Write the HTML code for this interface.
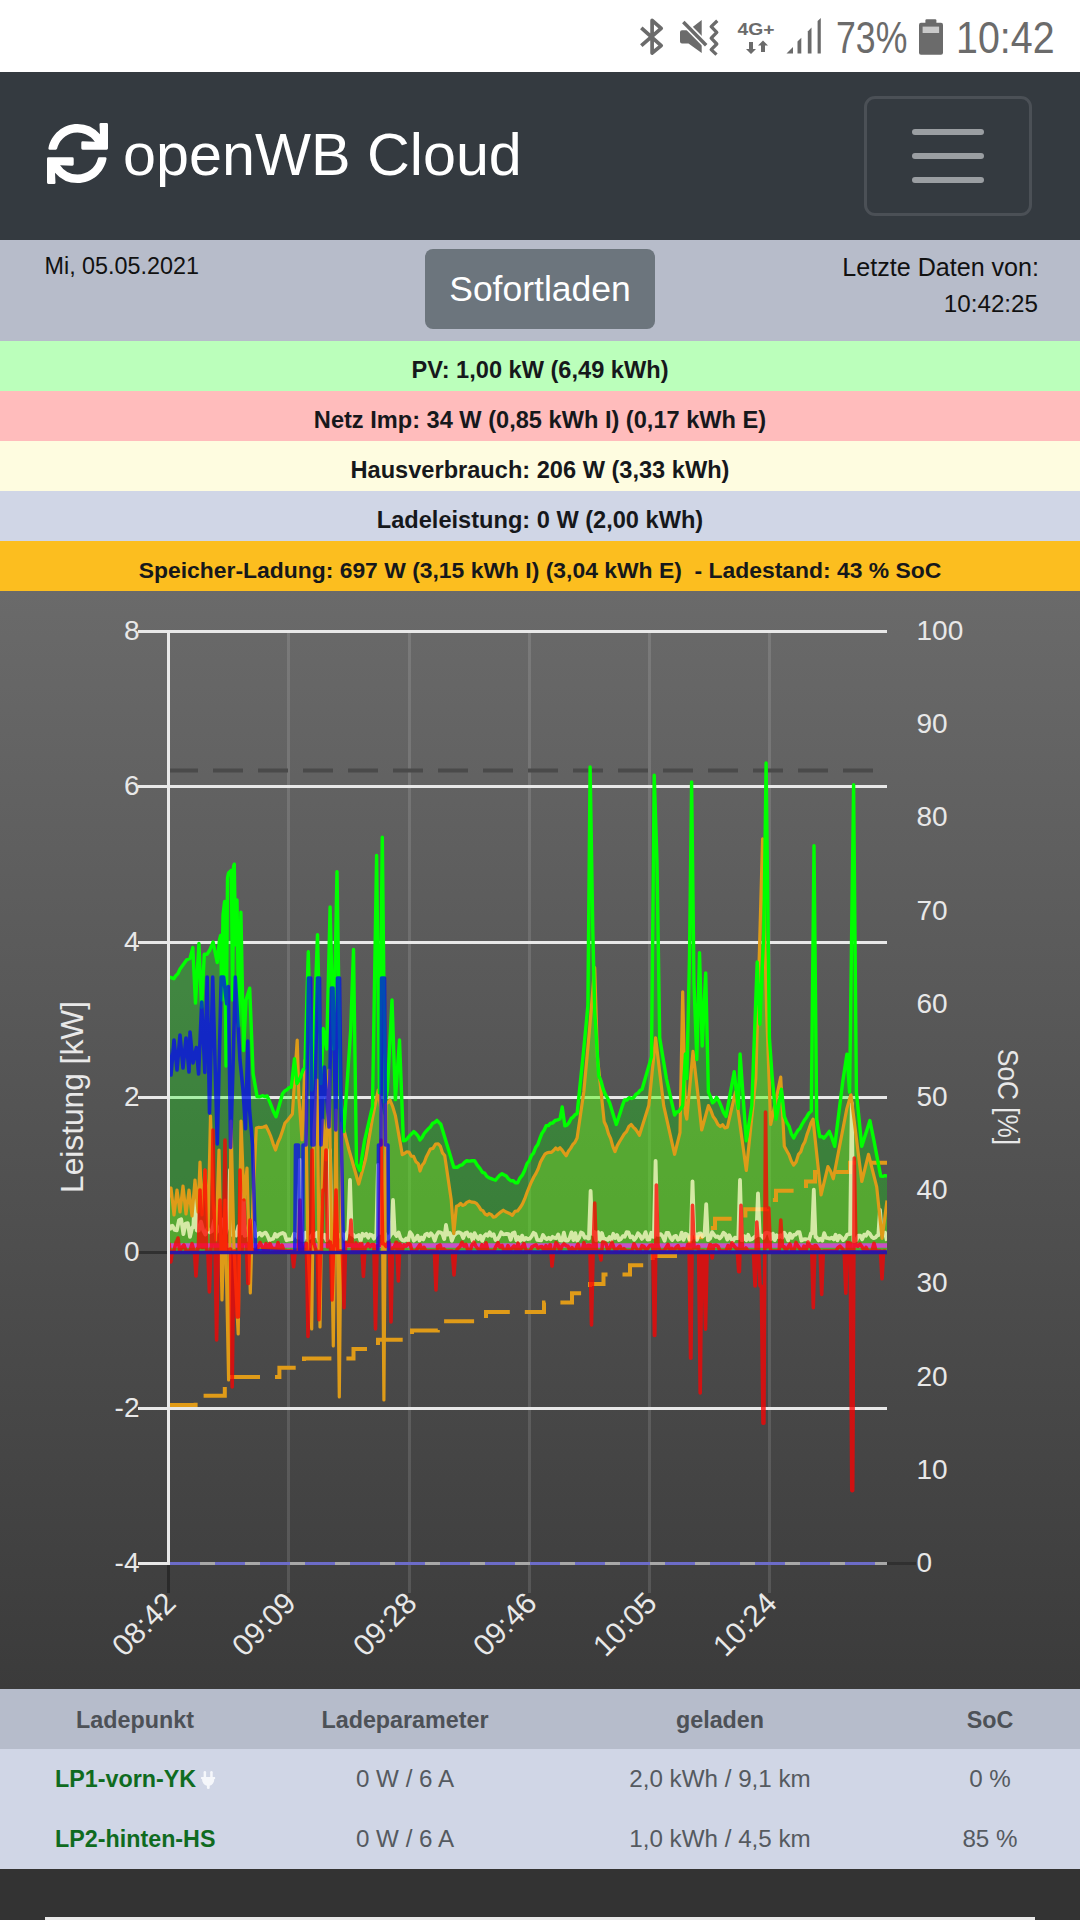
<!DOCTYPE html><html><head><meta charset="utf-8"><style>
*{margin:0;padding:0;box-sizing:border-box}
html,body{width:1080px;height:1920px;overflow:hidden;background:#333;font-family:"Liberation Sans",sans-serif}
.abs{position:absolute}
#status{position:absolute;left:0;top:0;width:1080px;height:72px;background:#fff}
#nav{position:absolute;left:0;top:72px;width:1080px;height:168px;background:#343a40}
#info{position:absolute;left:0;top:240px;width:1080px;height:101px;background:#b7bcca}
.row{position:absolute;left:0;width:1080px;height:50px;font-weight:bold;font-size:23.6px;color:#16181b;text-align:center;line-height:58px}
#chart{position:absolute;left:0;top:591px;width:1080px;height:1098px}
#thead{position:absolute;left:0;top:1689px;width:1080px;height:60px;background:#b6bccb}
#tbody{position:absolute;left:0;top:1749px;width:1080px;height:120px;background:#d0d6e6}
#foot{position:absolute;left:0;top:1869px;width:1080px;height:51px;background:#333}
.t{position:absolute;white-space:nowrap}
</style></head><body>
<div id="status">
<svg class="abs" style="left:0;top:0" width="1080" height="72">
<g fill="none" stroke="#6b6b6b" stroke-width="3.7" stroke-linejoin="round" stroke-linecap="butt">
<path d="M641.3,27.8 L661.2,45.6 L652.1,53 V20.4 L661.2,28.3 L641.3,45.7"/>
</g>
<path d="M682,30.2 H688.5 L701.7,20 V53 L688.5,43.6 H682 Q680,43.6 680,41.6 V32.2 Q680,30.2 682,30.2 Z" fill="#6b6b6b"/>
<line x1="682.2" y1="20.8" x2="707.2" y2="46.2" stroke="#fff" stroke-width="6.8"/>
<line x1="683.3" y1="21.9" x2="706.2" y2="45.2" stroke="#6b6b6b" stroke-width="3.5" stroke-linecap="butt"/>
<path d="M717.3,20.7 L711.2,26.6 L716.8,32.4 L711.2,38.2 L716.8,44 L711.2,49.6 L716.5,54.6" fill="none" stroke="#6b6b6b" stroke-width="3.3" stroke-linejoin="round"/>
<text x="737.5" y="35.3" font-family="Liberation Sans" font-weight="bold" font-size="16.5" fill="#6b6b6b" textLength="37" lengthAdjust="spacingAndGlyphs">4G+</text>
<path d="M749,42 V49 H746 L751,54 L756,49 H753 V42 Z" fill="#6b6b6b"/>
<path d="M761,52 V45.5 H758 L763,40.5 L768,45.5 H765 V52 Z" fill="#6b6b6b"/>
<path d="M786.5,53.5 L793,47 V53.5 Z" fill="#6b6b6b"/>
<path d="M797.5,53.5 V41.5 L801.3,37.7 V53.5 Z" fill="#6b6b6b"/>
<path d="M807.8,53.5 V31.4 L811.5,27.6 V53.5 Z" fill="#6b6b6b"/>
<path d="M817.6,53.5 V21 L820.8,18 V53.5 Z" fill="#6b6b6b"/>
<rect x="919" y="22.8" width="24" height="32" rx="2" fill="#6b6b6b"/>
<rect x="925.4" y="19.2" width="11" height="5" rx="1.2" fill="#6b6b6b"/>
<rect x="922.6" y="26.6" width="16.5" height="6.4" fill="#c9c9c9"/>
</svg><div class="t" style="left:836px;top:14px;font-size:44px;line-height:48px;color:#6b6b6b;transform-origin:0 0;transform:scaleX(0.81)">73%</div><div class="t" style="left:956px;top:14px;font-size:44px;line-height:48px;color:#6b6b6b;transform-origin:0 0;transform:scaleX(0.895)">10:42</div>
</div>
<div id="nav">
<svg class="abs" style="left:47px;top:51px" width="61" height="61" viewBox="0 0 512 512"><path fill="#fff" d="M440.65 12.57l4 82.77A247.16 247.16 0 0 0 255.83 8C134.73 8 33.91 94.92 12.290 209.82A12 12 0 0 0 24.09 224h49.05a12 12 0 0 0 11.67-9.26 175.91 175.91 0 0 1 317-56.94l-101.46-4.860a12 12 0 0 0-12.57 12v47.41a12 12 0 0 0 12 12H500a12 12 0 0 0 12-12V12a12 12 0 0 0-12-12h-47.37a12 12 0 0 0-11.980 12.57zM255.83 432a175.61 175.61 0 0 1-146-77.8l101.8 4.87a12 12 0 0 0 12.57-12v-47.4a12 12 0 0 0-12-12H12a12 12 0 0 0-12 12V500a12 12 0 0 0 12 12h47.35a12 12 0 0 0 12-12.6l-4.15-82.57A247.17 247.17 0 0 0 255.83 504c121.11 0 221.93-86.92 243.55-201.82a12 12 0 0 0-11.800-14.18h-49.05a12 12 0 0 0-11.67 9.26A175.86 175.86 0 0 1 255.83 432z"/></svg>
<div class="t" style="left:123px;top:43px;font-size:59.3px;line-height:80px;color:#fff">openWB Cloud</div>
<div class="abs" style="left:864px;top:24px;width:168px;height:120px;border:3px solid #4b5056;border-radius:11px"></div>
<div class="abs" style="left:912px;top:57px;width:72px;height:6px;border-radius:3px;background:#9a9ea2"></div>
<div class="abs" style="left:912px;top:81px;width:72px;height:6px;border-radius:3px;background:#9a9ea2"></div>
<div class="abs" style="left:912px;top:105px;width:72px;height:6px;border-radius:3px;background:#9a9ea2"></div>
</div>
<div id="info">
<div class="t" style="left:44.5px;top:12px;font-size:23.35px;line-height:28px;color:#111">Mi, 05.05.2021</div>
<div class="abs" style="left:425px;top:9px;width:230px;height:80px;background:#6c757d;border-radius:8px"></div>
<div class="t" style="left:425px;top:9px;width:230px;height:80px;line-height:80px;text-align:center;font-size:35.5px;color:#fff">Sofortladen</div>
<div class="t" style="right:41px;top:13px;font-size:25.1px;line-height:28px;color:#111;text-align:right">Letzte Daten von:</div>
<div class="t" style="right:42px;top:50px;font-size:24.2px;line-height:28px;color:#111;text-align:right">10:42:25</div>
</div>
<div class="row" style="top:341px;background:#bbffbb;">PV: 1,00 kW (6,49 kWh)</div>
<div class="row" style="top:391px;background:#ffbcbc;">Netz Imp: 34 W (0,85 kWh I) (0,17 kWh E)</div>
<div class="row" style="top:441px;background:#fefce0;">Hausverbrauch: 206 W (3,33 kWh)</div>
<div class="row" style="top:491px;background:#d0d6e6;">Ladeleistung: 0 W (2,00 kWh)</div>
<div class="row" style="top:541px;background:#fcbe1f;font-size:22.9px;">Speicher-Ladung: 697 W (3,15 kWh I) (3,04 kWh E) &nbsp;- Ladestand: 43 % SoC</div>
<div id="chart"><svg width="1080" height="1098" viewBox="0 591 1080 1098" style="display:block;font-family:'Liberation Sans',sans-serif">
<defs><linearGradient id="bg" x1="0" y1="0" x2="0" y2="1"><stop offset="0" stop-color="#6a6a6a"/><stop offset="1" stop-color="#3b3b3b"/></linearGradient><clipPath id="pl"><rect x="170" y="600" width="717" height="970"/></clipPath></defs>
<rect x="0" y="591" width="1080" height="1098" fill="url(#bg)"/>
<line x1="288.5" y1="630" x2="288.5" y2="1593" stroke="#ffffff" stroke-opacity="0.12" stroke-width="3"/>
<line x1="409.5" y1="630" x2="409.5" y2="1593" stroke="#ffffff" stroke-opacity="0.12" stroke-width="3"/>
<line x1="529.5" y1="630" x2="529.5" y2="1593" stroke="#ffffff" stroke-opacity="0.12" stroke-width="3"/>
<line x1="649.5" y1="630" x2="649.5" y2="1593" stroke="#ffffff" stroke-opacity="0.12" stroke-width="3"/>
<line x1="769.5" y1="630" x2="769.5" y2="1593" stroke="#ffffff" stroke-opacity="0.12" stroke-width="3"/>
<line x1="168.5" y1="1563" x2="168.5" y2="1593" stroke="#2a2a2a" stroke-width="3"/>
<line x1="138" y1="631.5" x2="887" y2="631.5" stroke="#e8e8e8" stroke-width="3"/>
<line x1="138" y1="786.5" x2="887" y2="786.5" stroke="#e8e8e8" stroke-width="3"/>
<line x1="138" y1="942.5" x2="887" y2="942.5" stroke="#e8e8e8" stroke-width="3"/>
<line x1="138" y1="1097.5" x2="887" y2="1097.5" stroke="#e8e8e8" stroke-width="3"/>
<line x1="138" y1="1408.5" x2="887" y2="1408.5" stroke="#e8e8e8" stroke-width="3"/>
<line x1="138" y1="1563.5" x2="887" y2="1563.5" stroke="#e8e8e8" stroke-width="3"/>
<line x1="138" y1="1252.5" x2="887" y2="1252.5" stroke="#303030" stroke-width="3"/>
<line x1="887" y1="1563.5" x2="916" y2="1563.5" stroke="#303030" stroke-width="3"/>
<line x1="168.5" y1="630" x2="168.5" y2="1565" stroke="#e8e8e8" stroke-width="3"/>
<g clip-path="url(#pl)">
<polygon points="168.4,976.7 171.1,977.6 173.8,978.7 175.8,975.7 177.9,973.6 179.9,969.2 182.2,966.0 184.4,963.0 186.7,959.8 190.0,958.4 192.8,947.6 195.5,1003.1 198.9,943.5 201.6,1007.2 204.3,954.3 207.0,954.3 209.7,950.3 213.1,942.1 217.2,962.5 219.5,940.0 220.6,935.4 221.8,1000.0 223.0,915.0 224.6,901.5 226.0,1066.0 227.5,878.0 228.5,873.0 231.4,870.3 232.6,1000.0 233.6,866.0 234.3,864.2 235.5,944.9 237.0,900.0 238.8,1026.0 240.9,912.3 243.6,1050.5 246.0,1000.0 249.7,988.2 253.1,1073.6 257.1,1096.6 259.7,1096.8 262.4,1095.7 265.0,1096.6 267.2,1096.0 269.4,1101.2 271.6,1106.7 273.8,1112.3 276.0,1116.7 282.5,1093.8 284.7,1091.0 286.9,1089.8 289.1,1087.6 291.3,1087.0 294.5,1058.8 296.9,1083.5 298.9,1080.4 300.9,1076.0 302.9,1070.2 304.9,1067.5 308.3,951.8 311.8,1090.0 317.5,934.6 321.0,1083.5 323.2,1028.5 326.7,1049.0 330.1,907.0 333.5,1049.0 337.0,871.6 340.4,1095.0 343.8,1131.6 350.7,1029.7 353.5,949.5 356.5,1163.7 359.9,1170.6 364.5,1140.8 372.5,1106.4 376.6,855.5 379.4,1092.7 382.3,837.2 385.1,1101.9 387.4,1090.4 392.0,999.9 395.4,1099.6 399.5,1040.0 403.4,1140.8 405.5,1140.3 407.5,1138.4 409.6,1135.7 411.6,1133.8 413.7,1131.6 415.8,1133.4 417.9,1135.8 420.0,1139.9 422.1,1137.4 424.2,1133.5 426.2,1131.2 428.3,1128.8 430.4,1126.9 432.6,1123.4 434.7,1122.5 436.9,1120.4 440.8,1124.3 453.8,1167.2 457.7,1167.2 460.0,1165.4 462.2,1164.9 464.5,1162.4 466.8,1160.7 469.4,1161.1 472.0,1160.7 474.6,1160.7 477.2,1165.1 479.9,1168.4 482.5,1172.4 484.7,1173.1 486.8,1176.4 489.0,1177.7 491.2,1178.6 493.3,1179.5 495.5,1180.2 497.7,1177.5 499.8,1175.1 502.0,1173.7 504.2,1174.9 506.3,1176.0 508.5,1179.0 510.8,1180.7 513.0,1180.6 515.3,1182.8 517.6,1182.8 519.9,1178.1 522.3,1175.2 524.6,1170.5 527.0,1163.7 529.3,1160.7 531.4,1155.5 533.5,1153.1 535.6,1147.5 537.8,1144.5 539.9,1138.5 542.0,1133.2 544.1,1130.3 546.2,1125.6 548.4,1125.5 550.5,1123.2 552.7,1123.0 555.1,1120.5 557.6,1119.9 560.0,1119.0 562.2,1107.0 564.9,1125.9 566.9,1125.2 569.0,1122.6 571.0,1118.7 573.0,1117.1 575.1,1114.6 577.1,1113.7 583.8,1048.7 587.9,1005.4 590.1,767.0 592.8,929.5 594.7,1010.8 598.7,1075.8 601.0,1080.9 603.2,1089.2 605.5,1094.7 607.5,1097.8 609.6,1102.8 616.3,1124.5 618.3,1118.5 620.4,1112.1 622.5,1105.3 624.5,1100.0 626.9,1100.0 629.2,1097.7 631.5,1098.5 633.9,1097.4 636.0,1094.3 638.0,1093.1 640.0,1090.5 642.1,1089.3 651.5,1056.8 654.2,775.2 657.0,861.9 659.7,1037.9 666.4,1078.5 674.6,1115.0 676.6,1112.0 678.7,1111.6 680.7,1108.8 682.7,1105.6 685.4,1054.0 686.8,1078.5 689.5,956.6 691.6,782.0 694.0,983.7 696.8,1059.5 699.5,952.6 702.2,1046.0 705.7,972.9 708.4,1092.0 710.5,1096.9 712.5,1102.8 714.5,1101.2 716.6,1097.4 719.0,1101.3 721.3,1106.6 723.6,1112.6 726.0,1116.4 734.2,1071.7 738.2,1108.3 740.1,1054.0 746.3,1140.8 751.8,1105.6 757.2,962.0 759.9,1024.3 763.9,929.5 766.1,763.0 769.4,1037.9 772.1,1075.8 776.1,1119.0 781.5,1089.3 784.3,1116.4 786.6,1122.2 789.0,1126.1 791.4,1134.0 793.7,1138.0 795.8,1133.8 797.8,1130.6 799.9,1128.6 801.9,1124.5 804.2,1120.6 806.6,1117.2 808.9,1113.2 811.3,1111.0 814.0,845.6 816.7,1119.0 819.8,1136.8 821.8,1136.4 823.9,1138.2 826.6,1135.0 829.3,1131.4 832.0,1138.1 834.7,1146.3 842.8,1081.3 846.9,1054.2 849.6,1092.1 853.6,784.7 856.4,1092.1 861.8,1146.3 869.9,1120.5 874.0,1140.9 880.7,1176.1 882.8,1176.4 884.9,1175.7 887.0,1176.1 887,1252 168,1252" fill="rgb(0,255,0)" fill-opacity="0.27"/>
<polygon points="168.0,1200.0 171.0,1188.0 174.0,1215.0 177.0,1190.0 180.0,1212.0 183.0,1186.0 186.0,1214.0 189.0,1190.0 192.0,1216.0 195.0,1180.0 198.0,1212.0 200.0,1162.0 202.0,1215.0 205.0,1170.0 208.0,1230.0 210.5,1116.0 213.0,1200.0 216.0,1240.0 219.0,1150.0 222.0,1300.0 225.0,1200.0 228.6,1380.0 231.0,1121.0 234.0,1250.0 238.2,1334.0 241.0,1121.0 244.0,1200.0 247.0,1168.0 250.3,1293.0 253.0,1200.0 256.3,1128.0 258.7,1127.4 261.1,1127.5 263.6,1127.0 266.0,1126.0 268.4,1130.9 270.8,1136.4 273.1,1143.6 275.5,1150.0 277.9,1142.5 280.2,1137.5 282.6,1130.4 285.0,1123.0 287.5,1120.3 289.9,1117.2 292.4,1114.0 297.2,1040.0 299.0,1099.0 302.0,1140.0 305.0,1060.0 308.0,1250.0 311.7,1329.0 314.0,1130.0 317.0,1080.0 320.0,1327.0 323.0,1120.0 326.0,1160.0 329.0,1070.0 333.3,1346.0 336.0,1110.0 339.3,1397.0 342.0,1122.5 349.0,1150.0 358.7,1184.0 365.6,1159.0 372.5,1118.0 378.2,1090.0 381.7,1115.6 383.9,1400.0 386.0,1104.0 388.0,1102.5 390.0,1100.0 392.7,1106.7 395.4,1115.6 402.3,1154.6 404.5,1153.5 406.8,1151.8 409.0,1152.0 411.3,1156.2 413.6,1156.4 416.0,1161.8 418.3,1163.7 420.0,1171.0 422.1,1165.2 424.2,1162.8 426.2,1157.3 428.3,1153.1 430.4,1149.0 433.0,1148.4 435.6,1144.0 438.2,1143.8 440.4,1146.3 442.5,1152.9 444.7,1155.5 451.2,1199.8 453.8,1233.6 456.4,1206.3 458.5,1205.5 460.6,1203.4 462.6,1205.5 464.7,1204.6 466.8,1202.4 469.4,1201.2 472.0,1202.2 474.6,1202.4 476.7,1203.6 478.8,1206.4 480.8,1209.7 482.9,1210.6 485.0,1214.0 487.1,1215.2 489.2,1213.6 491.3,1214.6 493.4,1217.2 495.5,1216.7 498.1,1214.2 500.7,1212.1 503.3,1210.2 505.6,1211.8 507.9,1212.7 510.1,1213.7 512.4,1215.4 515.0,1211.3 517.6,1210.9 520.2,1207.6 522.5,1203.9 524.8,1198.7 527.0,1192.5 529.3,1186.8 531.5,1181.7 533.8,1177.0 536.0,1173.4 538.2,1168.7 540.4,1162.3 542.7,1158.0 544.9,1154.2 547.1,1152.8 549.2,1152.4 551.4,1152.4 553.5,1150.5 555.7,1148.0 557.8,1149.7 560.0,1147.7 562.1,1150.1 564.1,1153.1 566.2,1155.7 568.4,1151.3 570.6,1148.4 572.7,1144.7 574.9,1142.4 577.1,1138.0 583.8,1092.0 589.3,1032.4 594.7,967.5 597.4,1056.8 604.2,1121.8 606.4,1126.5 608.5,1133.9 610.7,1138.6 612.8,1146.3 615.0,1151.6 617.3,1145.6 619.5,1141.8 621.8,1138.0 624.1,1134.1 626.5,1131.7 628.9,1126.4 631.2,1124.5 633.2,1127.1 635.3,1129.0 637.4,1131.9 639.4,1135.3 648.8,1105.6 655.6,1037.9 663.7,1105.6 674.6,1154.3 680.0,1132.6 682.7,991.8 685.4,1113.7 686.8,1119.0 693.0,1051.4 697.6,1092.0 701.7,1130.0 708.4,1105.6 710.8,1110.2 713.1,1116.5 715.5,1119.7 717.9,1124.5 720.3,1126.6 722.6,1124.8 725.0,1127.9 727.4,1127.2 735.5,1092.0 746.3,1170.5 755.8,1078.5 762.6,838.8 766.6,1010.8 770.7,1124.5 780.7,1077.0 784.3,1146.2 786.6,1150.5 789.0,1154.7 791.4,1161.2 793.7,1165.1 796.1,1162.0 798.4,1154.6 800.8,1151.7 802.8,1145.5 804.9,1141.7 806.9,1134.9 808.9,1129.2 811.0,1123.0 813.0,1119.2 821.1,1195.0 827.9,1166.6 830.6,1171.2 833.3,1178.8 846.9,1108.4 850.9,1094.8 861.8,1181.5 868.5,1154.4 876.7,1186.9 882.1,1238.4 887.0,1200.4 887,1252 168,1252" fill="rgb(138,244,33)" fill-opacity="0.35"/>
<line x1="168" y1="770.5" x2="874" y2="770.5" stroke="#4a4a4a" stroke-width="4" stroke-dasharray="30 15"/>
<line x1="170" y1="1563.5" x2="887" y2="1563.5" stroke="#a8a8a8" stroke-width="3"/>
<line x1="170" y1="1563.5" x2="887" y2="1563.5" stroke="#6c6cc8" stroke-width="3" stroke-dasharray="30 15"/>
<path d="M168,1405.1 H195.6 V1395.7 H224.8 V1386.4 H230 V1377.1 H279.4 V1367.8 H304 V1358.5 H353.5 V1349.1 H378 V1339.8 H412 V1330.5 H437.8 V1321.2 H486 V1311.9 H544 V1302.5 H572 V1293.2 H590 V1283.9 H603.5 V1274.6 H630 V1265.3 H652.8 V1255.9 H675 V1246.6 H690 V1237.3 H701.4 V1228.0 H715 V1218.7 H745.4 V1209.3 H767 V1200.0 H776 V1190.7 H806 V1181.4 H815 V1172.1 H850 V1162.7 H887" fill="none" stroke="#e09b18" stroke-width="4" stroke-dasharray="30 15"/>
<polyline points="168.0,1223.3 170.2,1228.8 172.4,1225.7 174.6,1229.9 176.8,1230.3 179.0,1220.2 181.2,1219.2 183.4,1234.1 185.6,1223.7 187.8,1223.2 190.0,1236.9 192.2,1227.5 193.3,1227.5 195.0,1190.0 196.7,1230.5 198.8,1230.5 201.0,1221.7 203.2,1230.4 205.4,1234.6 207.6,1228.4 209.8,1232.3 212.0,1231.1 214.2,1220.2 216.4,1232.6 218.6,1229.6 220.8,1224.4 223.0,1219.6 225.2,1234.6 227.4,1227.5 228.3,1227.5 230.0,1170.0 231.7,1234.8 231.8,1234.8 234.0,1231.9 236.2,1235.6 238.4,1226.1 240.6,1233.4 241.3,1233.4 243.0,1180.0 244.7,1235.8 245.0,1235.8 247.2,1234.8 249.4,1220.8 251.6,1221.4 253.8,1222.9 256.0,1236.4 258.0,1234.1 259.9,1232.9 261.8,1235.6 263.7,1233.4 265.6,1232.6 267.5,1235.6 269.4,1240.3 271.3,1239.2 273.2,1238.9 275.1,1234.0 277.0,1236.8 278.9,1234.5 280.8,1233.6 282.7,1233.0 284.6,1233.9 286.5,1240.3 288.4,1239.5 290.3,1239.3 292.2,1239.2 294.1,1233.7 296.0,1234.8 297.9,1237.6 298.3,1237.6 300.0,1160.0 301.7,1239.9 303.6,1239.9 305.5,1232.8 307.4,1237.5 309.3,1238.0 311.2,1236.6 313.1,1233.6 315.0,1236.3 316.9,1232.8 318.8,1240.4 320.7,1239.8 322.6,1236.9 324.5,1234.7 326.4,1240.2 328.3,1237.2 328.3,1237.2 330.0,1150.0 331.7,1239.6 332.1,1239.6 334.0,1236.6 335.9,1235.7 337.8,1237.4 339.7,1235.9 341.6,1233.5 343.5,1234.7 345.4,1239.3 347.3,1232.4 348.3,1232.4 350.0,1180.0 351.7,1234.5 353.0,1234.5 354.9,1236.8 356.8,1236.2 358.7,1235.1 360.6,1241.0 362.5,1233.8 364.4,1235.7 366.3,1233.8 368.2,1237.7 370.1,1234.5 372.0,1235.2 373.9,1238.7 375.8,1234.9 376.3,1234.9 378.0,1165.0 379.7,1232.9 381.5,1232.9 383.4,1232.6 385.3,1234.1 387.2,1238.9 389.1,1237.5 391.0,1234.1 391.3,1234.1 393.0,1200.0 394.7,1233.6 394.8,1233.6 396.7,1236.1 398.6,1232.4 400.5,1238.3 402.4,1240.1 404.3,1240.6 406.2,1238.6 408.1,1240.6 410.0,1232.2 411.9,1234.6 413.8,1240.7 415.7,1239.0 417.6,1235.7 419.5,1240.5 421.4,1237.6 423.3,1239.4 425.2,1234.6 427.1,1233.7 429.0,1236.0 430.9,1233.2 432.8,1235.4 434.7,1240.7 436.6,1235.0 438.5,1232.1 440.4,1232.4 442.3,1233.5 444.2,1239.1 444.3,1239.1 446.0,1225.0 447.7,1234.6 448.0,1234.6 449.9,1232.9 451.8,1240.8 453.7,1235.8 455.6,1233.9 457.5,1232.5 459.4,1232.5 461.3,1233.5 463.2,1238.1 465.1,1233.3 467.0,1232.4 468.9,1236.4 470.8,1234.2 472.7,1241.0 474.6,1233.1 476.5,1236.8 478.4,1239.0 480.3,1235.7 482.2,1240.9 484.1,1236.3 486.0,1234.2 487.9,1235.7 489.8,1232.3 491.7,1235.8 493.6,1234.2 495.5,1240.0 497.4,1239.5 499.3,1236.5 501.2,1232.3 503.1,1234.3 505.0,1234.2 506.9,1233.9 508.8,1234.1 510.7,1239.8 512.6,1233.3 514.5,1232.5 516.4,1240.4 518.3,1237.1 520.2,1240.9 522.1,1235.6 524.0,1240.1 525.9,1237.9 527.8,1239.1 529.7,1238.7 531.6,1236.4 533.5,1232.8 535.4,1233.9 537.3,1239.9 539.2,1240.1 541.1,1240.3 543.0,1235.0 544.9,1237.9 546.8,1239.2 548.7,1237.8 550.6,1239.3 552.5,1236.8 554.4,1237.9 556.3,1238.2 558.2,1234.4 560.1,1240.3 562.0,1240.6 563.9,1232.7 565.8,1240.7 567.7,1240.7 569.6,1238.0 571.5,1232.4 573.4,1240.1 575.3,1233.1 577.2,1240.7 579.1,1238.0 581.0,1232.5 582.9,1233.5 584.8,1237.7 586.7,1237.1 588.6,1238.7 588.9,1238.7 590.6,1190.8 592.3,1234.0 592.4,1234.0 594.3,1232.0 596.2,1240.3 598.1,1232.1 600.0,1239.9 601.9,1233.0 603.8,1239.3 605.7,1239.0 607.6,1239.9 609.5,1237.0 611.4,1239.9 613.3,1233.8 615.2,1238.0 617.1,1235.0 619.0,1240.0 620.9,1239.0 622.8,1236.2 624.7,1236.7 626.6,1232.2 628.5,1232.3 630.4,1237.4 632.3,1236.4 634.2,1239.8 636.1,1237.5 638.0,1233.2 639.9,1235.3 641.8,1238.9 643.7,1236.7 645.6,1232.1 647.5,1239.5 649.4,1239.4 651.3,1232.8 653.2,1236.9 653.9,1236.9 653.9,1236.9 655.6,1160.8 657.3,1234.8 657.3,1234.8 658.9,1234.8 660.8,1234.1 662.7,1236.4 664.6,1240.7 666.5,1232.9 668.4,1233.0 670.3,1237.6 672.2,1240.0 674.1,1236.6 676.0,1235.9 677.9,1239.7 679.8,1239.0 681.7,1232.6 683.6,1239.9 685.5,1233.8 687.4,1234.7 689.3,1239.5 690.8,1239.5 692.5,1181.3 694.2,1233.5 695.0,1233.5 696.9,1239.9 698.8,1233.6 700.7,1233.3 702.6,1236.4 704.5,1235.0 704.5,1235.0 706.2,1204.2 707.9,1240.1 708.3,1240.1 710.2,1238.4 712.1,1232.1 714.0,1234.8 715.9,1236.9 717.8,1236.4 719.7,1238.4 721.6,1236.4 723.5,1232.7 725.4,1234.2 727.3,1239.6 729.2,1235.2 731.1,1238.9 733.0,1240.9 734.9,1237.6 736.8,1238.1 738.3,1238.1 740.0,1180.0 741.7,1240.2 742.5,1240.2 744.4,1236.2 746.3,1240.2 748.2,1234.8 750.1,1239.8 752.0,1239.1 753.9,1237.5 755.8,1236.0 756.3,1236.0 758.0,1193.3 759.7,1235.3 761.5,1235.3 763.4,1238.0 765.3,1233.2 767.2,1232.7 769.1,1233.3 771.0,1239.3 772.9,1233.6 774.8,1240.1 776.7,1235.3 778.6,1237.2 780.5,1235.2 782.4,1237.6 784.3,1232.8 786.2,1235.6 788.1,1240.4 790.0,1233.6 791.9,1237.9 793.8,1234.9 795.7,1234.7 797.6,1232.2 799.5,1232.2 801.4,1240.5 803.3,1239.5 805.2,1239.2 807.1,1239.3 809.0,1240.6 810.9,1233.4 812.1,1233.4 813.8,1189.7 815.5,1237.2 816.6,1237.2 818.5,1240.4 820.4,1238.8 822.3,1240.7 824.2,1233.1 826.1,1237.9 828.0,1238.1 829.9,1238.7 831.8,1237.6 833.7,1239.5 835.6,1234.7 837.5,1240.4 839.4,1235.7 841.3,1237.4 843.2,1240.1 845.1,1238.3 847.0,1234.8 848.9,1234.1 850.1,1234.1 851.8,1103.0 853.5,1241.0 854.6,1241.0 856.5,1240.1 858.4,1235.6 860.3,1235.6 862.2,1239.4 864.1,1234.6 866.0,1235.7 867.9,1232.1 869.8,1233.7 871.7,1236.9 873.6,1238.2 875.5,1237.5 877.4,1235.3 878.3,1235.3 880.0,1210.0 881.7,1233.4 883.1,1233.4 885.0,1232.6 886.9,1240.8" fill="none" stroke="rgb(255,255,204)" stroke-opacity="0.75" stroke-width="3.8" stroke-linejoin="round"/>
<line x1="168" y1="1245.5" x2="887" y2="1245.5" stroke="#c850c8" stroke-width="4.5"/>
<polyline points="168.0,1200.0 171.0,1188.0 174.0,1215.0 177.0,1190.0 180.0,1212.0 183.0,1186.0 186.0,1214.0 189.0,1190.0 192.0,1216.0 195.0,1180.0 198.0,1212.0 200.0,1162.0 202.0,1215.0 205.0,1170.0 208.0,1230.0 210.5,1116.0 213.0,1200.0 216.0,1240.0 219.0,1150.0 222.0,1300.0 225.0,1200.0 228.6,1380.0 231.0,1121.0 234.0,1250.0 238.2,1334.0 241.0,1121.0 244.0,1200.0 247.0,1168.0 250.3,1293.0 253.0,1200.0 256.3,1128.0 258.7,1127.4 261.1,1127.5 263.6,1127.0 266.0,1126.0 268.4,1130.9 270.8,1136.4 273.1,1143.6 275.5,1150.0 277.9,1142.5 280.2,1137.5 282.6,1130.4 285.0,1123.0 287.5,1120.3 289.9,1117.2 292.4,1114.0 297.2,1040.0 299.0,1099.0 302.0,1140.0 305.0,1060.0 308.0,1250.0 311.7,1329.0 314.0,1130.0 317.0,1080.0 320.0,1327.0 323.0,1120.0 326.0,1160.0 329.0,1070.0 333.3,1346.0 336.0,1110.0 339.3,1397.0 342.0,1122.5 349.0,1150.0 358.7,1184.0 365.6,1159.0 372.5,1118.0 378.2,1090.0 381.7,1115.6 383.9,1400.0 386.0,1104.0 388.0,1102.5 390.0,1100.0 392.7,1106.7 395.4,1115.6 402.3,1154.6 404.5,1153.5 406.8,1151.8 409.0,1152.0 411.3,1156.2 413.6,1156.4 416.0,1161.8 418.3,1163.7 420.0,1171.0 422.1,1165.2 424.2,1162.8 426.2,1157.3 428.3,1153.1 430.4,1149.0 433.0,1148.4 435.6,1144.0 438.2,1143.8 440.4,1146.3 442.5,1152.9 444.7,1155.5 451.2,1199.8 453.8,1233.6 456.4,1206.3 458.5,1205.5 460.6,1203.4 462.6,1205.5 464.7,1204.6 466.8,1202.4 469.4,1201.2 472.0,1202.2 474.6,1202.4 476.7,1203.6 478.8,1206.4 480.8,1209.7 482.9,1210.6 485.0,1214.0 487.1,1215.2 489.2,1213.6 491.3,1214.6 493.4,1217.2 495.5,1216.7 498.1,1214.2 500.7,1212.1 503.3,1210.2 505.6,1211.8 507.9,1212.7 510.1,1213.7 512.4,1215.4 515.0,1211.3 517.6,1210.9 520.2,1207.6 522.5,1203.9 524.8,1198.7 527.0,1192.5 529.3,1186.8 531.5,1181.7 533.8,1177.0 536.0,1173.4 538.2,1168.7 540.4,1162.3 542.7,1158.0 544.9,1154.2 547.1,1152.8 549.2,1152.4 551.4,1152.4 553.5,1150.5 555.7,1148.0 557.8,1149.7 560.0,1147.7 562.1,1150.1 564.1,1153.1 566.2,1155.7 568.4,1151.3 570.6,1148.4 572.7,1144.7 574.9,1142.4 577.1,1138.0 583.8,1092.0 589.3,1032.4 594.7,967.5 597.4,1056.8 604.2,1121.8 606.4,1126.5 608.5,1133.9 610.7,1138.6 612.8,1146.3 615.0,1151.6 617.3,1145.6 619.5,1141.8 621.8,1138.0 624.1,1134.1 626.5,1131.7 628.9,1126.4 631.2,1124.5 633.2,1127.1 635.3,1129.0 637.4,1131.9 639.4,1135.3 648.8,1105.6 655.6,1037.9 663.7,1105.6 674.6,1154.3 680.0,1132.6 682.7,991.8 685.4,1113.7 686.8,1119.0 693.0,1051.4 697.6,1092.0 701.7,1130.0 708.4,1105.6 710.8,1110.2 713.1,1116.5 715.5,1119.7 717.9,1124.5 720.3,1126.6 722.6,1124.8 725.0,1127.9 727.4,1127.2 735.5,1092.0 746.3,1170.5 755.8,1078.5 762.6,838.8 766.6,1010.8 770.7,1124.5 780.7,1077.0 784.3,1146.2 786.6,1150.5 789.0,1154.7 791.4,1161.2 793.7,1165.1 796.1,1162.0 798.4,1154.6 800.8,1151.7 802.8,1145.5 804.9,1141.7 806.9,1134.9 808.9,1129.2 811.0,1123.0 813.0,1119.2 821.1,1195.0 827.9,1166.6 830.6,1171.2 833.3,1178.8 846.9,1108.4 850.9,1094.8 861.8,1181.5 868.5,1154.4 876.7,1186.9 882.1,1238.4 887.0,1200.4" fill="none" stroke="#de9b18" stroke-width="3.2" stroke-linejoin="round"/>
<polyline points="168.0,1243.8 169.2,1243.8 170.8,1262.0 172.4,1251.0 174.0,1251.0 176.0,1242.4 176.4,1242.4 178.0,1238.0 179.6,1251.0 180.0,1251.0 182.0,1247.3 184.0,1245.0 186.0,1251.0 188.0,1251.0 190.0,1251.0 192.0,1243.6 194.0,1251.0 194.4,1251.0 196.0,1276.0 197.6,1248.1 198.0,1248.1 198.4,1248.1 200.0,1190.0 201.6,1247.5 202.0,1247.5 203.4,1247.5 205.0,1170.0 206.6,1251.0 207.8,1251.0 209.4,1292.0 211.0,1247.6 211.4,1247.6 213.0,1130.0 214.6,1242.7 215.0,1242.7 216.6,1340.0 218.2,1251.0 218.4,1251.0 220.0,1200.0 221.6,1251.0 222.0,1251.0 223.4,1251.0 225.0,1140.0 226.6,1251.0 228.0,1251.0 230.0,1249.0 230.6,1249.0 232.2,1387.0 233.8,1251.0 234.0,1251.0 235.4,1251.0 237.0,1317.0 238.4,1317.0 240.0,1170.0 241.6,1251.0 242.0,1251.0 242.4,1251.0 244.0,1200.0 245.6,1243.1 246.0,1243.1 246.3,1243.1 247.9,1283.5 248.4,1283.5 250.0,1220.0 251.6,1248.9 252.0,1248.9 254.0,1251.0 256.0,1251.0 258.0,1247.6 260.0,1242.5 262.0,1246.6 264.0,1251.0 266.0,1243.6 268.0,1251.0 270.0,1243.4 272.0,1248.7 274.0,1248.4 276.0,1251.0 278.0,1242.6 280.0,1251.0 282.0,1245.2 284.0,1251.0 286.0,1251.0 288.0,1251.0 290.0,1251.0 292.0,1251.0 292.0,1251.0 293.6,1266.7 295.2,1251.0 296.0,1251.0 298.0,1251.0 298.4,1251.0 300.0,1200.0 301.6,1251.0 302.0,1251.0 304.0,1251.0 306.0,1243.2 306.4,1243.2 308.0,1336.5 309.6,1251.0 310.0,1251.0 310.4,1251.0 312.0,1150.0 313.6,1243.1 314.0,1243.1 316.0,1251.0 317.3,1251.0 318.9,1319.6 320.5,1251.0 321.4,1251.0 323.0,1190.0 324.4,1190.0 326.0,1150.0 327.6,1246.9 328.0,1246.9 330.0,1242.0 330.4,1242.0 332.0,1300.0 333.6,1245.6 334.0,1245.6 334.4,1245.6 336.0,1190.0 337.6,1251.0 338.0,1251.0 340.0,1251.0 342.0,1251.0 342.4,1251.0 344.0,1307.6 345.6,1242.3 346.0,1242.3 348.0,1245.5 349.4,1245.5 351.0,1220.0 352.6,1251.0 354.0,1251.0 356.0,1242.9 358.0,1251.0 360.0,1243.6 361.8,1243.6 363.4,1276.3 365.0,1247.0 366.0,1247.0 368.0,1243.6 370.0,1246.9 372.0,1244.5 373.9,1244.5 375.5,1329.0 377.1,1245.8 378.0,1245.8 379.4,1245.8 381.0,1140.0 382.6,1243.8 384.0,1243.8 386.0,1246.5 388.0,1242.9 389.4,1242.9 391.0,1322.0 392.6,1247.8 394.0,1247.8 396.0,1242.4 396.7,1242.4 398.3,1281.0 399.9,1243.9 400.0,1243.9 402.0,1251.0 404.0,1244.9 406.0,1246.1 408.0,1243.6 410.0,1244.0 412.0,1251.0 414.0,1251.0 416.0,1251.0 418.0,1247.5 420.0,1244.6 422.0,1251.0 424.0,1247.4 426.0,1251.0 428.0,1251.0 430.0,1251.0 432.0,1251.0 434.0,1251.0 434.4,1251.0 436.0,1290.0 437.6,1246.3 438.0,1246.3 440.0,1244.9 442.0,1251.0 444.0,1249.0 446.0,1251.0 448.0,1251.0 450.0,1251.0 452.0,1251.0 452.4,1251.0 454.0,1275.0 455.6,1251.0 456.0,1251.0 458.0,1248.3 460.0,1246.6 462.0,1242.3 464.0,1246.1 466.0,1244.5 468.0,1251.0 470.0,1251.0 472.0,1245.1 474.0,1242.2 476.0,1246.5 478.0,1249.0 480.0,1251.0 482.0,1244.7 484.0,1251.0 486.0,1242.8 488.0,1251.0 490.0,1251.0 492.0,1251.0 494.0,1251.0 496.0,1246.3 498.0,1242.6 500.0,1247.2 502.0,1245.5 504.0,1251.0 506.0,1251.0 508.0,1245.6 510.0,1251.0 512.0,1248.1 514.0,1245.9 516.0,1251.0 518.0,1243.2 520.0,1251.0 522.0,1247.1 524.0,1243.5 526.0,1251.0 528.0,1251.0 530.0,1251.0 532.0,1246.9 534.0,1245.7 536.0,1244.8 538.0,1248.2 540.0,1246.9 542.0,1246.6 544.0,1251.0 546.0,1245.7 548.0,1251.0 550.0,1244.9 550.4,1244.9 552.0,1266.0 553.6,1251.0 554.0,1251.0 556.0,1242.6 558.0,1245.2 560.0,1251.0 562.0,1246.0 564.0,1244.0 566.0,1245.6 568.0,1246.3 570.0,1251.0 572.0,1247.6 574.0,1251.0 576.0,1248.5 578.0,1244.1 580.0,1251.0 582.0,1251.0 584.0,1242.6 586.0,1251.0 588.0,1245.2 589.9,1245.2 591.5,1325.0 593.1,1251.0 593.1,1251.0 594.7,1203.0 596.3,1251.0 598.0,1251.0 599.4,1251.0 601.0,1260.0 602.6,1242.1 604.0,1242.1 606.0,1244.1 608.0,1251.0 610.0,1247.5 612.0,1242.3 614.0,1248.1 616.0,1251.0 618.0,1248.0 620.0,1246.1 622.0,1251.0 624.0,1248.7 626.0,1251.0 628.0,1251.0 630.0,1251.0 632.0,1251.0 634.0,1243.8 636.0,1248.1 638.0,1251.0 640.0,1251.0 642.0,1245.6 644.0,1246.4 646.0,1251.0 648.0,1247.9 650.0,1245.5 652.0,1245.1 652.8,1245.1 654.4,1335.4 654.8,1335.4 656.4,1185.0 658.0,1245.4 658.0,1245.4 660.0,1251.0 662.0,1251.0 664.0,1251.0 666.0,1247.7 668.0,1244.4 670.0,1251.0 672.0,1248.4 674.0,1251.0 676.0,1247.3 678.0,1245.6 680.0,1251.0 682.0,1248.8 684.0,1248.6 686.0,1251.0 688.0,1244.2 689.0,1244.2 690.6,1358.2 690.9,1358.2 692.5,1205.4 694.1,1248.0 696.0,1248.0 698.0,1246.5 698.6,1246.5 700.2,1393.0 701.8,1251.0 702.0,1251.0 703.9,1251.0 705.5,1329.3 707.1,1251.0 708.0,1251.0 710.0,1244.5 710.6,1244.5 712.2,1258.0 713.8,1245.4 714.0,1245.4 716.0,1245.0 718.0,1246.2 720.0,1251.0 722.0,1251.0 724.0,1251.0 726.0,1251.0 728.0,1245.6 730.0,1249.0 732.0,1242.8 734.0,1246.0 736.0,1248.3 737.1,1248.3 738.7,1271.6 739.4,1271.6 741.0,1205.4 742.6,1251.0 744.0,1251.0 746.0,1247.9 748.0,1251.0 750.0,1251.0 752.0,1251.0 753.4,1251.0 755.0,1286.0 755.2,1286.0 756.8,1222.0 758.4,1246.4 758.4,1246.4 760.0,1286.0 761.4,1286.0 763.0,1423.2 763.9,1423.2 765.5,1112.0 767.1,1247.0 767.2,1247.0 768.8,1208.0 770.4,1251.0 772.0,1251.0 774.0,1251.0 776.0,1251.0 778.0,1251.0 779.2,1251.0 780.8,1220.0 782.4,1246.5 784.0,1246.5 786.0,1251.0 788.0,1247.0 790.0,1244.0 792.0,1251.0 794.0,1251.0 796.0,1242.4 798.0,1246.0 800.0,1249.0 802.0,1251.0 804.0,1246.1 806.0,1251.0 808.0,1242.1 810.0,1246.5 811.7,1246.5 813.3,1307.7 814.9,1245.6 816.0,1245.6 818.0,1248.6 820.0,1251.0 820.1,1251.0 821.7,1294.4 823.3,1251.0 824.0,1251.0 826.0,1251.0 828.0,1251.0 830.0,1251.0 832.0,1251.0 834.0,1251.0 836.0,1251.0 838.0,1247.7 840.0,1246.2 842.0,1248.4 844.0,1251.0 844.2,1251.0 845.8,1293.2 847.4,1242.6 848.0,1242.6 850.0,1243.0 850.2,1243.0 851.8,1490.6 852.7,1490.6 854.3,1158.0 855.9,1245.6 856.0,1245.6 858.0,1246.4 860.0,1243.9 862.0,1246.8 864.0,1251.0 866.0,1247.4 868.0,1251.0 870.0,1251.0 872.0,1251.0 874.0,1243.3 876.0,1251.0 878.0,1251.0 880.0,1251.0 880.4,1251.0 882.0,1278.8 883.6,1251.0 884.0,1251.0 886.0,1251.0" fill="none" stroke="rgb(255,0,0)" stroke-opacity="0.75" stroke-width="3.6" stroke-linejoin="round"/>
<polyline points="168.4,976.7 171.1,977.6 173.8,978.7 175.8,975.7 177.9,973.6 179.9,969.2 182.2,966.0 184.4,963.0 186.7,959.8 190.0,958.4 192.8,947.6 195.5,1003.1 198.9,943.5 201.6,1007.2 204.3,954.3 207.0,954.3 209.7,950.3 213.1,942.1 217.2,962.5 219.5,940.0 220.6,935.4 221.8,1000.0 223.0,915.0 224.6,901.5 226.0,1066.0 227.5,878.0 228.5,873.0 231.4,870.3 232.6,1000.0 233.6,866.0 234.3,864.2 235.5,944.9 237.0,900.0 238.8,1026.0 240.9,912.3 243.6,1050.5 246.0,1000.0 249.7,988.2 253.1,1073.6 257.1,1096.6 259.7,1096.8 262.4,1095.7 265.0,1096.6 267.2,1096.0 269.4,1101.2 271.6,1106.7 273.8,1112.3 276.0,1116.7 282.5,1093.8 284.7,1091.0 286.9,1089.8 289.1,1087.6 291.3,1087.0 294.5,1058.8 296.9,1083.5 298.9,1080.4 300.9,1076.0 302.9,1070.2 304.9,1067.5 308.3,951.8 311.8,1090.0 317.5,934.6 321.0,1083.5 323.2,1028.5 326.7,1049.0 330.1,907.0 333.5,1049.0 337.0,871.6 340.4,1095.0 343.8,1131.6 350.7,1029.7 353.5,949.5 356.5,1163.7 359.9,1170.6 364.5,1140.8 372.5,1106.4 376.6,855.5 379.4,1092.7 382.3,837.2 385.1,1101.9 387.4,1090.4 392.0,999.9 395.4,1099.6 399.5,1040.0 403.4,1140.8 405.5,1140.3 407.5,1138.4 409.6,1135.7 411.6,1133.8 413.7,1131.6 415.8,1133.4 417.9,1135.8 420.0,1139.9 422.1,1137.4 424.2,1133.5 426.2,1131.2 428.3,1128.8 430.4,1126.9 432.6,1123.4 434.7,1122.5 436.9,1120.4 440.8,1124.3 453.8,1167.2 457.7,1167.2 460.0,1165.4 462.2,1164.9 464.5,1162.4 466.8,1160.7 469.4,1161.1 472.0,1160.7 474.6,1160.7 477.2,1165.1 479.9,1168.4 482.5,1172.4 484.7,1173.1 486.8,1176.4 489.0,1177.7 491.2,1178.6 493.3,1179.5 495.5,1180.2 497.7,1177.5 499.8,1175.1 502.0,1173.7 504.2,1174.9 506.3,1176.0 508.5,1179.0 510.8,1180.7 513.0,1180.6 515.3,1182.8 517.6,1182.8 519.9,1178.1 522.3,1175.2 524.6,1170.5 527.0,1163.7 529.3,1160.7 531.4,1155.5 533.5,1153.1 535.6,1147.5 537.8,1144.5 539.9,1138.5 542.0,1133.2 544.1,1130.3 546.2,1125.6 548.4,1125.5 550.5,1123.2 552.7,1123.0 555.1,1120.5 557.6,1119.9 560.0,1119.0 562.2,1107.0 564.9,1125.9 566.9,1125.2 569.0,1122.6 571.0,1118.7 573.0,1117.1 575.1,1114.6 577.1,1113.7 583.8,1048.7 587.9,1005.4 590.1,767.0 592.8,929.5 594.7,1010.8 598.7,1075.8 601.0,1080.9 603.2,1089.2 605.5,1094.7 607.5,1097.8 609.6,1102.8 616.3,1124.5 618.3,1118.5 620.4,1112.1 622.5,1105.3 624.5,1100.0 626.9,1100.0 629.2,1097.7 631.5,1098.5 633.9,1097.4 636.0,1094.3 638.0,1093.1 640.0,1090.5 642.1,1089.3 651.5,1056.8 654.2,775.2 657.0,861.9 659.7,1037.9 666.4,1078.5 674.6,1115.0 676.6,1112.0 678.7,1111.6 680.7,1108.8 682.7,1105.6 685.4,1054.0 686.8,1078.5 689.5,956.6 691.6,782.0 694.0,983.7 696.8,1059.5 699.5,952.6 702.2,1046.0 705.7,972.9 708.4,1092.0 710.5,1096.9 712.5,1102.8 714.5,1101.2 716.6,1097.4 719.0,1101.3 721.3,1106.6 723.6,1112.6 726.0,1116.4 734.2,1071.7 738.2,1108.3 740.1,1054.0 746.3,1140.8 751.8,1105.6 757.2,962.0 759.9,1024.3 763.9,929.5 766.1,763.0 769.4,1037.9 772.1,1075.8 776.1,1119.0 781.5,1089.3 784.3,1116.4 786.6,1122.2 789.0,1126.1 791.4,1134.0 793.7,1138.0 795.8,1133.8 797.8,1130.6 799.9,1128.6 801.9,1124.5 804.2,1120.6 806.6,1117.2 808.9,1113.2 811.3,1111.0 814.0,845.6 816.7,1119.0 819.8,1136.8 821.8,1136.4 823.9,1138.2 826.6,1135.0 829.3,1131.4 832.0,1138.1 834.7,1146.3 842.8,1081.3 846.9,1054.2 849.6,1092.1 853.6,784.7 856.4,1092.1 861.8,1146.3 869.9,1120.5 874.0,1140.9 880.7,1176.1 882.8,1176.4 884.9,1175.7 887.0,1176.1" fill="none" stroke="#00ff00" stroke-width="3.4" stroke-linejoin="round"/>
<polyline points="168.0,1045.0 171.0,1075.0 174.0,1040.0 177.0,1070.0 180.0,1035.0 183.0,1068.0 186.0,1038.0 189.0,1072.0 190.0,1032.0 193.0,1063.0 196.3,1047.5 198.6,1074.0 201.7,1002.0 204.8,1072.5 207.2,977.0 209.5,1113.0 212.7,977.0 215.8,1090.0 217.3,1144.0 221.2,977.0 223.6,977.0 226.7,1003.8 228.3,986.5 230.6,1147.5 233.0,1067.8 235.3,977.0 240.0,1060.0 243.0,1089.7 245.5,1128.8 247.8,1041.0 249.4,1108.0 252.5,1144.4 255.6,1250.6 294.8,1252.0 295.5,1145.0 298.5,1145.0 299.5,1252.0 302.6,1252.0 303.0,1145.0 306.0,1145.0 308.5,978.0 310.6,978.0 312.0,1145.0 314.0,1145.0 317.5,978.0 319.5,978.0 321.0,1145.0 324.3,1067.0 329.0,1127.0 331.5,988.0 333.0,988.0 335.8,1130.0 337.5,978.0 339.5,978.0 341.5,1145.0 343.5,1252.0 377.9,1252.0 378.5,1145.0 381.0,1145.0 381.6,978.0 384.5,978.0 385.5,1145.0 388.0,1145.0 388.7,1252.0 887.0,1252.0" fill="none" stroke="rgb(0,0,255)" stroke-opacity="0.7" stroke-width="3.6" stroke-linejoin="round"/>
<line x1="170" y1="1252.5" x2="887" y2="1252.5" stroke="#2a16a6" stroke-width="3.4"/>
</g>
<text x="139.5" y="640.0" font-size="28" fill="#e8e8e8" text-anchor="end">8</text>
<text x="139.5" y="795.0" font-size="28" fill="#e8e8e8" text-anchor="end">6</text>
<text x="139.5" y="951.0" font-size="28" fill="#e8e8e8" text-anchor="end">4</text>
<text x="139.5" y="1106.0" font-size="28" fill="#e8e8e8" text-anchor="end">2</text>
<text x="139.5" y="1261.0" font-size="28" fill="#e8e8e8" text-anchor="end">0</text>
<text x="139.5" y="1417.0" font-size="28" fill="#e8e8e8" text-anchor="end">-2</text>
<text x="139.5" y="1572.0" font-size="28" fill="#e8e8e8" text-anchor="end">-4</text>
<text x="916.5" y="1572.0" font-size="28" fill="#e8e8e8">0</text>
<text x="916.5" y="1478.8" font-size="28" fill="#e8e8e8">10</text>
<text x="916.5" y="1385.6" font-size="28" fill="#e8e8e8">20</text>
<text x="916.5" y="1292.4" font-size="28" fill="#e8e8e8">30</text>
<text x="916.5" y="1199.2" font-size="28" fill="#e8e8e8">40</text>
<text x="916.5" y="1106.0" font-size="28" fill="#e8e8e8">50</text>
<text x="916.5" y="1012.8" font-size="28" fill="#e8e8e8">60</text>
<text x="916.5" y="919.6" font-size="28" fill="#e8e8e8">70</text>
<text x="916.5" y="826.4" font-size="28" fill="#e8e8e8">80</text>
<text x="916.5" y="733.2" font-size="28" fill="#e8e8e8">90</text>
<text x="916.5" y="640.0" font-size="28" fill="#e8e8e8">100</text>
<text transform="translate(177.5,1605) rotate(-45)" font-size="30" fill="#e8e8e8" text-anchor="end">08:42</text>
<text transform="translate(297.5,1605) rotate(-45)" font-size="30" fill="#e8e8e8" text-anchor="end">09:09</text>
<text transform="translate(418.5,1605) rotate(-45)" font-size="30" fill="#e8e8e8" text-anchor="end">09:28</text>
<text transform="translate(538.5,1605) rotate(-45)" font-size="30" fill="#e8e8e8" text-anchor="end">09:46</text>
<text transform="translate(658.5,1605) rotate(-45)" font-size="30" fill="#e8e8e8" text-anchor="end">10:05</text>
<text transform="translate(778.5,1605) rotate(-45)" font-size="30" fill="#e8e8e8" text-anchor="end">10:24</text>
<text transform="translate(83,1097) rotate(-90)" font-size="31" fill="#e8e8e8" text-anchor="middle" textLength="192" lengthAdjust="spacingAndGlyphs">Leistung [kW]</text>
<text transform="translate(997.5,1097) rotate(90)" font-size="30" fill="#e8e8e8" text-anchor="middle" textLength="96" lengthAdjust="spacingAndGlyphs">SoC [%]</text></svg></div>
<div id="thead">
<div class="t" style="left:-15px;width:300px;top:17px;line-height:28px;text-align:center;font-weight:bold;font-size:23.3px;color:#4d5157">Ladepunkt</div>
<div class="t" style="left:255px;width:300px;top:17px;line-height:28px;text-align:center;font-weight:bold;font-size:23.3px;color:#4d5157">Ladeparameter</div>
<div class="t" style="left:570px;width:300px;top:17px;line-height:28px;text-align:center;font-weight:bold;font-size:23.3px;color:#4d5157">geladen</div>
<div class="t" style="left:840px;width:300px;top:17px;line-height:28px;text-align:center;font-weight:bold;font-size:23.3px;color:#4d5157">SoC</div>
</div>
<div id="tbody">
<div class="t" style="left:55px;top:16px;line-height:28px;font-weight:bold;font-size:23.3px;color:#0f6b1f">LP1-vorn-YK</div>
<div class="t" style="left:255px;width:300px;top:16px;line-height:28px;text-align:center;font-size:24.2px;color:#555a60">0 W / 6 A</div>
<div class="t" style="left:570px;width:300px;top:16px;line-height:28px;text-align:center;font-size:24.2px;color:#555a60">2,0 kWh / 9,1 km</div>
<div class="t" style="left:840px;width:300px;top:16px;line-height:28px;text-align:center;font-size:24.2px;color:#555a60">0 %</div>
<div class="t" style="left:55px;top:76px;line-height:28px;font-weight:bold;font-size:23.3px;color:#0f6b1f">LP2-hinten-HS</div>
<div class="t" style="left:255px;width:300px;top:76px;line-height:28px;text-align:center;font-size:24.2px;color:#555a60">0 W / 6 A</div>
<div class="t" style="left:570px;width:300px;top:76px;line-height:28px;text-align:center;font-size:24.2px;color:#555a60">1,0 kWh / 4,5 km</div>
<div class="t" style="left:840px;width:300px;top:76px;line-height:28px;text-align:center;font-size:24.2px;color:#555a60">85 %</div>
<svg class="abs" style="left:200px;top:20px" width="16" height="21" viewBox="0 0 16 21"><g fill="#f5f7fb"><rect x="3.6" y="2" width="2.5" height="6.5" rx="1.2"/><rect x="10.2" y="2" width="2.5" height="6.5" rx="1.2"/><path d="M1.1,8 H15.1 V10 H14.3 C14.3,13.6 12.3,16 9.7,16.8 V19 Q9.7,20 8.3,20 Q6.9,20 6.9,19 V16.8 C4.2,16 2,13.6 2,10 H1.1 Z"/></g></svg>
</div>
<div id="foot"><div class="abs" style="left:45px;top:48px;width:990px;height:10px;background:#e9e9e9"></div></div>
</body></html>
